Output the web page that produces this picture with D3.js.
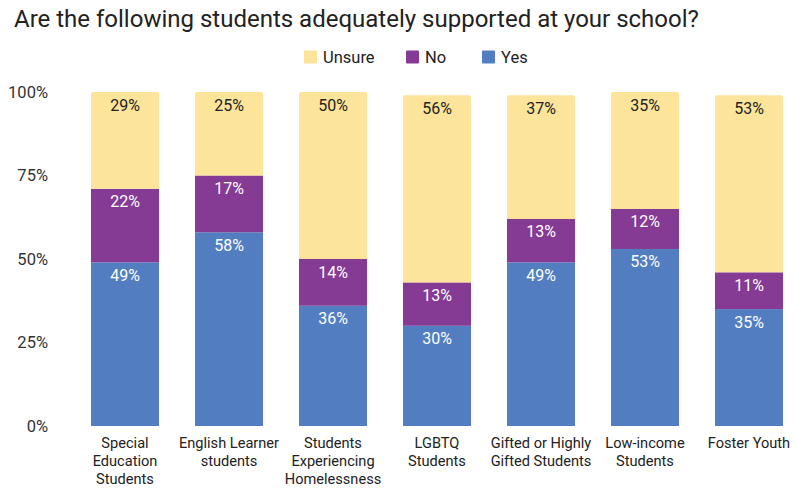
<!DOCTYPE html>
<html>
<head>
<meta charset="utf-8">
<script src="https://cdn.jsdelivr.net/npm/d3@7"></script>
<style>
  html, body { margin: 0; padding: 0; background: #fff; }
  svg { display: block; font-family: Roboto, "Noto Sans", sans-serif; }
</style>
</head>
<body>
<svg id="chart" width="795" height="489"></svg>
<script>
// Survey groups, in display order (line breaks marked with "|")
const categories = [
  "Special|Education|Students",
  "English Learner|students",
  "Students|Experiencing|Homelessness",
  "LGBTQ|Students",
  "Gifted or Highly|Gifted Students",
  "Low-income|Students",
  "Foster Youth"
];

// Percent of responses per answer
const yesValues    = [49, 58, 36, 30, 49, 53, 35];
const noValues     = [22, 17, 14, 13, 13, 12, 11];
const unsureValues = [29, 25, 50, 56, 37, 35, 53];

const seriesNames = ["Yes", "No", "Unsure"];
const legendOrder = ["Unsure", "No", "Yes"];
const yTicks = [0, 25, 50, 75, 100];

const colors = { Yes: "#527ec1", No: "#853b94", Unsure: "#fde49b" };
const labelColors = { Yes: "#ffffff", No: "#ffffff", Unsure: "#222222" };

const rows = categories.map((c, i) => ({
  category: c, Yes: yesValues[i], No: noValues[i], Unsure: unsureValues[i]
}));

const svg = d3.select("#chart");

// Each category gets a 104px slot; bars are 68px wide
const x = d3.scaleBand()
  .domain(categories)
  .range([73, 801])
  .paddingInner(36 / 104)
  .paddingOuter(18 / 104);

const y = d3.scaleLinear().domain([0, 100]).range([426, 92]);

// Title
svg.append("text")
  .attr("x", 14).attr("y", 26.5)
  .attr("font-size", 24)
  .attr("fill", "#222")
  .text("Are the following students adequately supported at your school?");

// Legend
const legendX = { Unsure: 304, No: 406, Yes: 482 };
const legend = svg.append("g");
legendOrder.forEach(name => {
  legend.append("rect")
    .attr("x", legendX[name]).attr("y", 50.5)
    .attr("width", 13).attr("height", 13)
    .attr("rx", 1)
    .attr("fill", colors[name]);
  legend.append("text")
    .attr("x", legendX[name] + 19).attr("y", 62.5)
    .attr("font-size", 16.5)
    .attr("fill", "#222")
    .text(name);
});

// Y axis (labels only)
const yAxis = d3.axisLeft(y)
  .tickValues(yTicks)
  .tickFormat(d => d + "%")
  .tickSize(0)
  .tickPadding(0);
const yg = svg.append("g").attr("transform", "translate(48,0)").call(yAxis);
yg.select(".domain").remove();
yg.selectAll("text")
  .attr("font-size", 16.5)
  .attr("font-family", "Roboto, 'Noto Sans', sans-serif")
  .attr("fill", "#333");

// Stacked bars
const stack = d3.stack().keys(seriesNames);
const stacked = stack(rows);

// Topmost segment gets slightly rounded top corners
function topRoundedPath(x0, y0, w, h, r) {
  return `M${x0},${y0 + h}V${y0 + r}Q${x0},${y0} ${x0 + r},${y0}` +
         `H${x0 + w - r}Q${x0 + w},${y0} ${x0 + w},${y0 + r}V${y0 + h}Z`;
}

stacked.forEach((layer, li) => {
  const key = layer.key;
  const g = svg.append("g");
  layer.forEach((d, i) => {
    const x0 = x(categories[i]);
    const w = x.bandwidth();
    const cx = x0 + w / 2;
    const yTop = y(d[1]);
    const yBot = y(d[0]);
    if (li === stacked.length - 1) {
      g.append("path")
        .attr("d", topRoundedPath(x0, yTop, w, yBot - yTop, 2))
        .attr("fill", colors[key]);
    } else {
      g.append("rect")
        .attr("x", x0).attr("y", yTop)
        .attr("width", w).attr("height", yBot - yTop)
        .attr("fill", colors[key]);
    }
    g.append("text")
      .attr("x", cx).attr("y", yTop + 18.5)
      .attr("text-anchor", "middle")
      .attr("font-size", 16)
      .attr("fill", labelColors[key])
      .text((d[1] - d[0]) + "%");
  });
});

// Category labels
const xg = svg.append("g");
categories.forEach(c => {
  const cx = x(c) + x.bandwidth() / 2;
  const t = xg.append("text")
    .attr("text-anchor", "middle")
    .attr("font-size", 14.6)
    .attr("fill", "#222");
  c.split("|").forEach((line, k) => {
    t.append("tspan")
      .attr("x", cx)
      .attr("y", 447.5 + k * 18)
      .text(line);
  });
});
</script>
</body>
</html>
